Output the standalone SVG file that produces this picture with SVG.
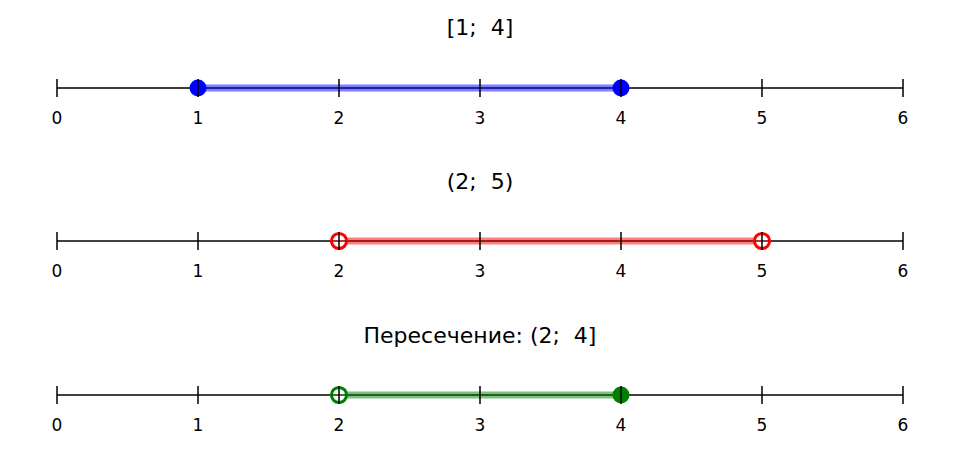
<svg xmlns="http://www.w3.org/2000/svg" width="959" height="466" viewBox="0 0 959 466">
<style>
.axis{stroke:#000;stroke-width:1.5;fill:none}
.tick{stroke:#000;stroke-width:1.5}
.lbl{font-family:"DejaVu Sans",sans-serif;font-size:17px;text-anchor:middle;fill:#000}
.title{font-family:"DejaVu Sans",sans-serif;font-size:22px;text-anchor:middle;fill:#000;white-space:pre}
.band{stroke-width:7;stroke-opacity:0.5;fill:none}
</style>
<defs>
<g id="ticks">
<path class="tick" d="M57 -9V9M198 -9V9M339 -9V9M480 -9V9M621 -9V9M762 -9V9M903 -9V9"/>
</g>
<g id="labels">
<text class="lbl" x="57" y="36">0</text>
<text class="lbl" x="198" y="36">1</text>
<text class="lbl" x="339" y="36">2</text>
<text class="lbl" x="480" y="36">3</text>
<text class="lbl" x="621" y="36">4</text>
<text class="lbl" x="762" y="36">5</text>
<text class="lbl" x="903" y="36">6</text>
</g>
</defs>
<g id="line1">
<text class="title" x="480" y="35" xml:space="preserve">[1;  4]</text>
<line class="axis" x1="57" y1="88" x2="903" y2="88"/>
<line class="band" x1="198" y1="88" x2="621" y2="88" stroke="#0000ff"/>
<circle cx="198" cy="88" r="8.5" fill="#0000ff"/>
<circle cx="621" cy="88" r="8.5" fill="#0000ff"/>
<use href="#ticks" y="88"/>
<use href="#labels" y="88"/>
</g>
<g id="line2">
<text class="title" x="480" y="189" xml:space="preserve">(2;  5)</text>
<line class="axis" x1="57" y1="241" x2="903" y2="241"/>
<line class="band" x1="339" y1="241" x2="762" y2="241" stroke="#ff0000"/>
<circle cx="339" cy="241" r="7.6" fill="#fff" stroke="#ff0000" stroke-width="3"/>
<circle cx="762" cy="241" r="7.6" fill="#fff" stroke="#ff0000" stroke-width="3"/>
<path d="M332 241H346M755 241H769" stroke="#800000" stroke-width="1.5"/>
<use href="#ticks" y="241"/>
<use href="#labels" y="241"/>
</g>
<g id="line3">
<text class="title" x="480" y="343" xml:space="preserve">Пересечение: (2;  4]</text>
<line class="axis" x1="57" y1="395" x2="903" y2="395"/>
<line class="band" x1="339" y1="395" x2="621" y2="395" stroke="#008000"/>
<circle cx="339" cy="395" r="7.6" fill="#fff" stroke="#008000" stroke-width="3"/>
<circle cx="621" cy="395" r="8.5" fill="#008000"/>
<path d="M332 395H346" stroke="#004000" stroke-width="1.5"/>
<use href="#ticks" y="395"/>
<use href="#labels" y="395"/>
</g>
</svg>
